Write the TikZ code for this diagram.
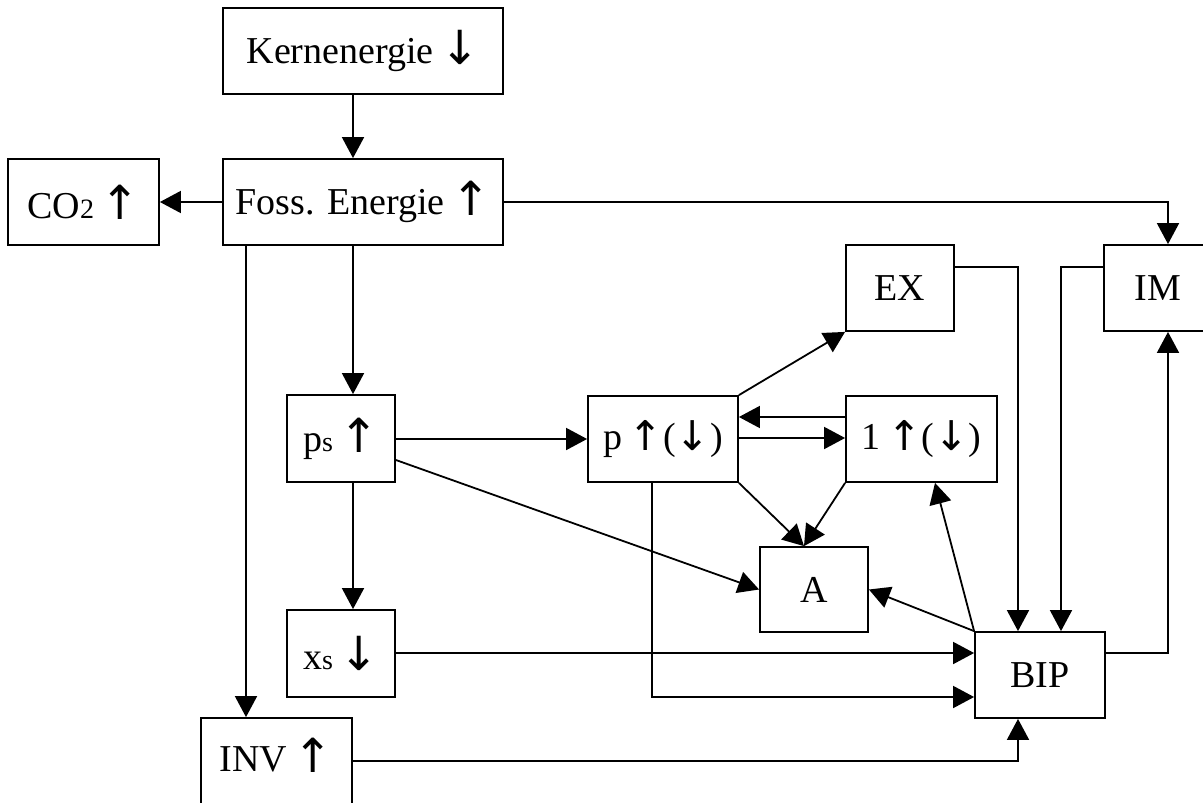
\documentclass[tikz,border=0pt]{standalone}
\usepackage{fontspec}
\setmainfont{Liberation Serif}
\newfontfamily\arrfont{DejaVu Sans}
\usetikzlibrary{arrows.meta}
\newcommand{\UA}{{\fontsize{47}{50}\arrfont\raisebox{-1pt}{↑}}}
\newcommand{\DA}{{\fontsize{47}{50}\arrfont\raisebox{-1pt}{↓}}}
\newcommand{\UAs}{{\fontsize{41}{44}\arrfont\raisebox{-1pt}{↑}}}
\newcommand{\DAs}{{\fontsize{41}{44}\arrfont\raisebox{-1pt}{↓}}}
\newcommand{\sm}[1]{{\fontsize{28}{30}\selectfont #1}}
\begin{document}
\begin{tikzpicture}[x=1pt,y=-1pt,
  box/.style={draw, line width=1.8pt, rectangle, inner sep=0pt, font=\fontsize{38}{44}\selectfont},
  lbl/.style={inner sep=0pt, font=\fontsize{38}{44}\selectfont},
  arr/.style={line width=1.8pt, -{Triangle[length=21pt,width=22pt]}}]
\useasboundingbox (0,0) rectangle (1203,803);
% nodes
\node[box, minimum width=280, minimum height=86] (Kern) at (363,51) {Kernenergie\,\DA};
\node[box, minimum width=280, minimum height=86] (Foss) at (363,202) {Foss. Energie\,\UA};
\node[box, minimum width=151, minimum height=86] (CO2) at (83.5,202) {CO\sm{2}\,\UA};
\node[box, minimum width=108, minimum height=86] (EX) at (900,288) {EX};
\node[box, minimum width=108, minimum height=86] (IM) at (1158,288) {IM};
\node[box, minimum width=108, minimum height=87] (ps) at (341,438.5) {p\sm{s}\,\UA};
\node[box, minimum width=150, minimum height=86] (p) at (663,439) {p\,\UAs(\DAs)};
\node[box, minimum width=151, minimum height=86] (l) at (921.5,439) {1\,\UAs(\DAs)};
\node[box, minimum width=108, minimum height=85] (A) at (814,589.5) {A};
\node[box, minimum width=108, minimum height=87] (xs) at (341,653.5) {x\sm{s}\,\DA};
\node[box, minimum width=130, minimum height=86] (BIP) at (1040,675) {BIP};
\node[box, minimum width=151, minimum height=88] (INV) at (276.5,762) {};
\node[lbl] (INVt) at (276.5,755) {INV\,\UA};
% connectors
\draw[arr] (Kern.south -| 353,0) -- (Foss.north -| 353,0);
\draw[arr] (Foss.west) -- (CO2.east);
\draw[arr] (Foss.east) -| (IM.north -| 1168,0);
\draw[arr] (Foss.south -| 246,0) -- (INV.north -| 246,0);
\draw[arr] (Foss.south -| 353,0) -- (ps.north -| 353,0);
\draw[arr] (ps.east |- 0,439) -- (p.west |- 0,439);
\draw[arr] (ps.east |- 0,460) -- (A.west);
\draw[arr] (ps.south -| 353,0) -- (xs.north -| 353,0);
\draw[arr] (xs.east |- 0,653) -- (BIP.west |- 0,653);
\draw[arr] (INV.east |- 0,761) -| (BIP.south -| 1018,0);
\draw[arr] (p.north east) -- (EX.south west);
\draw[arr] (l.west |- 0,417) -- (p.east |- 0,417);
\draw[arr] (p.east |- 0,438) -- (l.west |- 0,438);
\draw[arr] (p.south east) -- (A.north -| 804,0);
\draw[arr] (l.south west) -- (A.north -| 804,0);
\draw[arr] (p.south -| 652,0) |- (BIP.west |- 0,697);
\draw[arr] (EX.east |- 0,267) -| (BIP.north -| 1018,0);
\draw[arr] (IM.west |- 0,267) -| (BIP.north -| 1061,0);
\draw[arr] (BIP.east |- 0,653) -| (IM.south -| 1168,0);
\draw[arr] (BIP.north west) -- (A.east);
\draw[arr] (BIP.north west) -- (l.south -| 935,0);
\end{tikzpicture}
\end{document}
